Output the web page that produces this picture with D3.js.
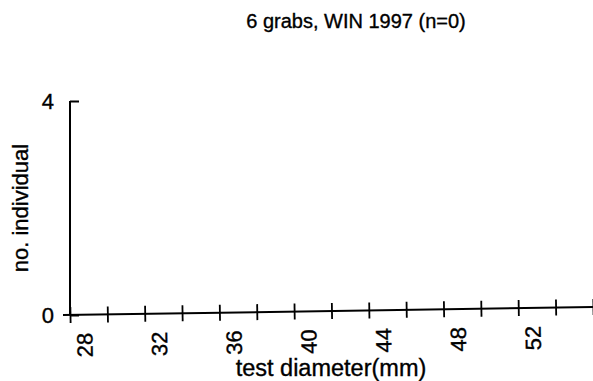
<!DOCTYPE html>
<html>
<head>
<meta charset="utf-8">
<script src="https://cdn.jsdelivr.net/npm/d3@7"></script>
<style>
  html, body { margin: 0; padding: 0; background: #fff; }
  svg { display: block; }
  text { font-family: "Liberation Sans", Arial, Helvetica, sans-serif; fill: #000; stroke: #000; stroke-width: 0.35px; }
</style>
</head>
<body>
<svg id="chart" width="593" height="381"></svg>
<script>
// ---- data ----
const title = "6 grabs, WIN 1997 (n=0)";
const xTitle = "test diameter(mm)";
const yTitle = "no. individual";
const binCenters = [29, 31, 33, 35, 37, 39, 41, 43, 45, 47, 49, 51, 53, 55];
const counts     = [0, 0, 0, 0, 0, 0, 0, 0, 0, 0, 0, 0, 0, 0];
const xTicks = [28, 30, 32, 34, 36, 38, 40, 42, 44, 46, 48, 50, 52, 54, 56];
const xTickLabels = [28, 32, 36, 40, 44, 48, 52];
const yTicks = [0, 4];

// ---- layout ----
const svg = d3.select("#chart");
const x = d3.scaleLinear().domain([28, 56]).range([70, 593]);
const y = d3.scaleLinear().domain([0, 4]).range([315, 101]);

// title
svg.append("text")
  .attr("x", 356).attr("y", 28)
  .attr("text-anchor", "middle")
  .style("font-size", "20px")
  .text(title);

// y axis
const yAxis = d3.axisLeft(y).tickValues(yTicks).tickSize(-9).tickPadding(16).tickFormat(d3.format("d"));
const gy = svg.append("g").attr("transform", "translate(70,0)").call(yAxis);
gy.select(".domain").attr("stroke", "#000").attr("stroke-width", 2).attr("d", `M0,${y(4)}V${y(0)}`);
gy.selectAll(".tick line").attr("stroke", "#000").attr("stroke-width", 2);
gy.selectAll(".tick text").style("font-size", "22px").style("font-family", "'Liberation Sans', Arial, sans-serif").attr("dy", "0.36em");

// y title
svg.append("text")
  .attr("transform", "translate(28,208) rotate(-90)")
  .attr("text-anchor", "middle")
  .style("font-size", "22px")
  .text(yTitle);

// bars (all zero counts)
svg.append("g").selectAll("rect").data(binCenters).join("rect")
  .attr("x", (d) => x(d - 1))
  .attr("width", (d) => x(d + 1) - x(d - 1))
  .attr("y", (d, i) => y(counts[i]))
  .attr("height", (d, i) => y(0) - y(counts[i]))
  .attr("fill", "#000");

// x axis (slightly tilted as in the scan)
const gxWrap = svg.append("g").attr("transform", `rotate(-0.88, 70, ${y(0)})`);
const xAxis = d3.axisBottom(x).tickValues(xTicks).tickSize(8).tickFormat(() => "");
const gx = gxWrap.append("g").attr("transform", `translate(0,${y(0)})`).call(xAxis);
gx.select(".domain").attr("stroke", "#000").attr("stroke-width", 2).attr("d", `M63,0H${x(56)}`);
gx.selectAll(".tick line").attr("stroke", "#000").attr("stroke-width", 1.8).attr("y1", -8).attr("y2", 8);

gxWrap.append("g").selectAll("text").data(xTickLabels).join("text")
  .attr("transform", (d) => `translate(${x(d) + 22},${y(0) + 18}) rotate(-90)`)
  .attr("text-anchor", "end")
  .style("font-size", "22px")
  .text((d) => d);

// x title
svg.append("text")
  .attr("x", 331).attr("y", 376)
  .attr("text-anchor", "middle")
  .style("font-size", "23.5px")
  .text(xTitle);
</script>
</body>
</html>
